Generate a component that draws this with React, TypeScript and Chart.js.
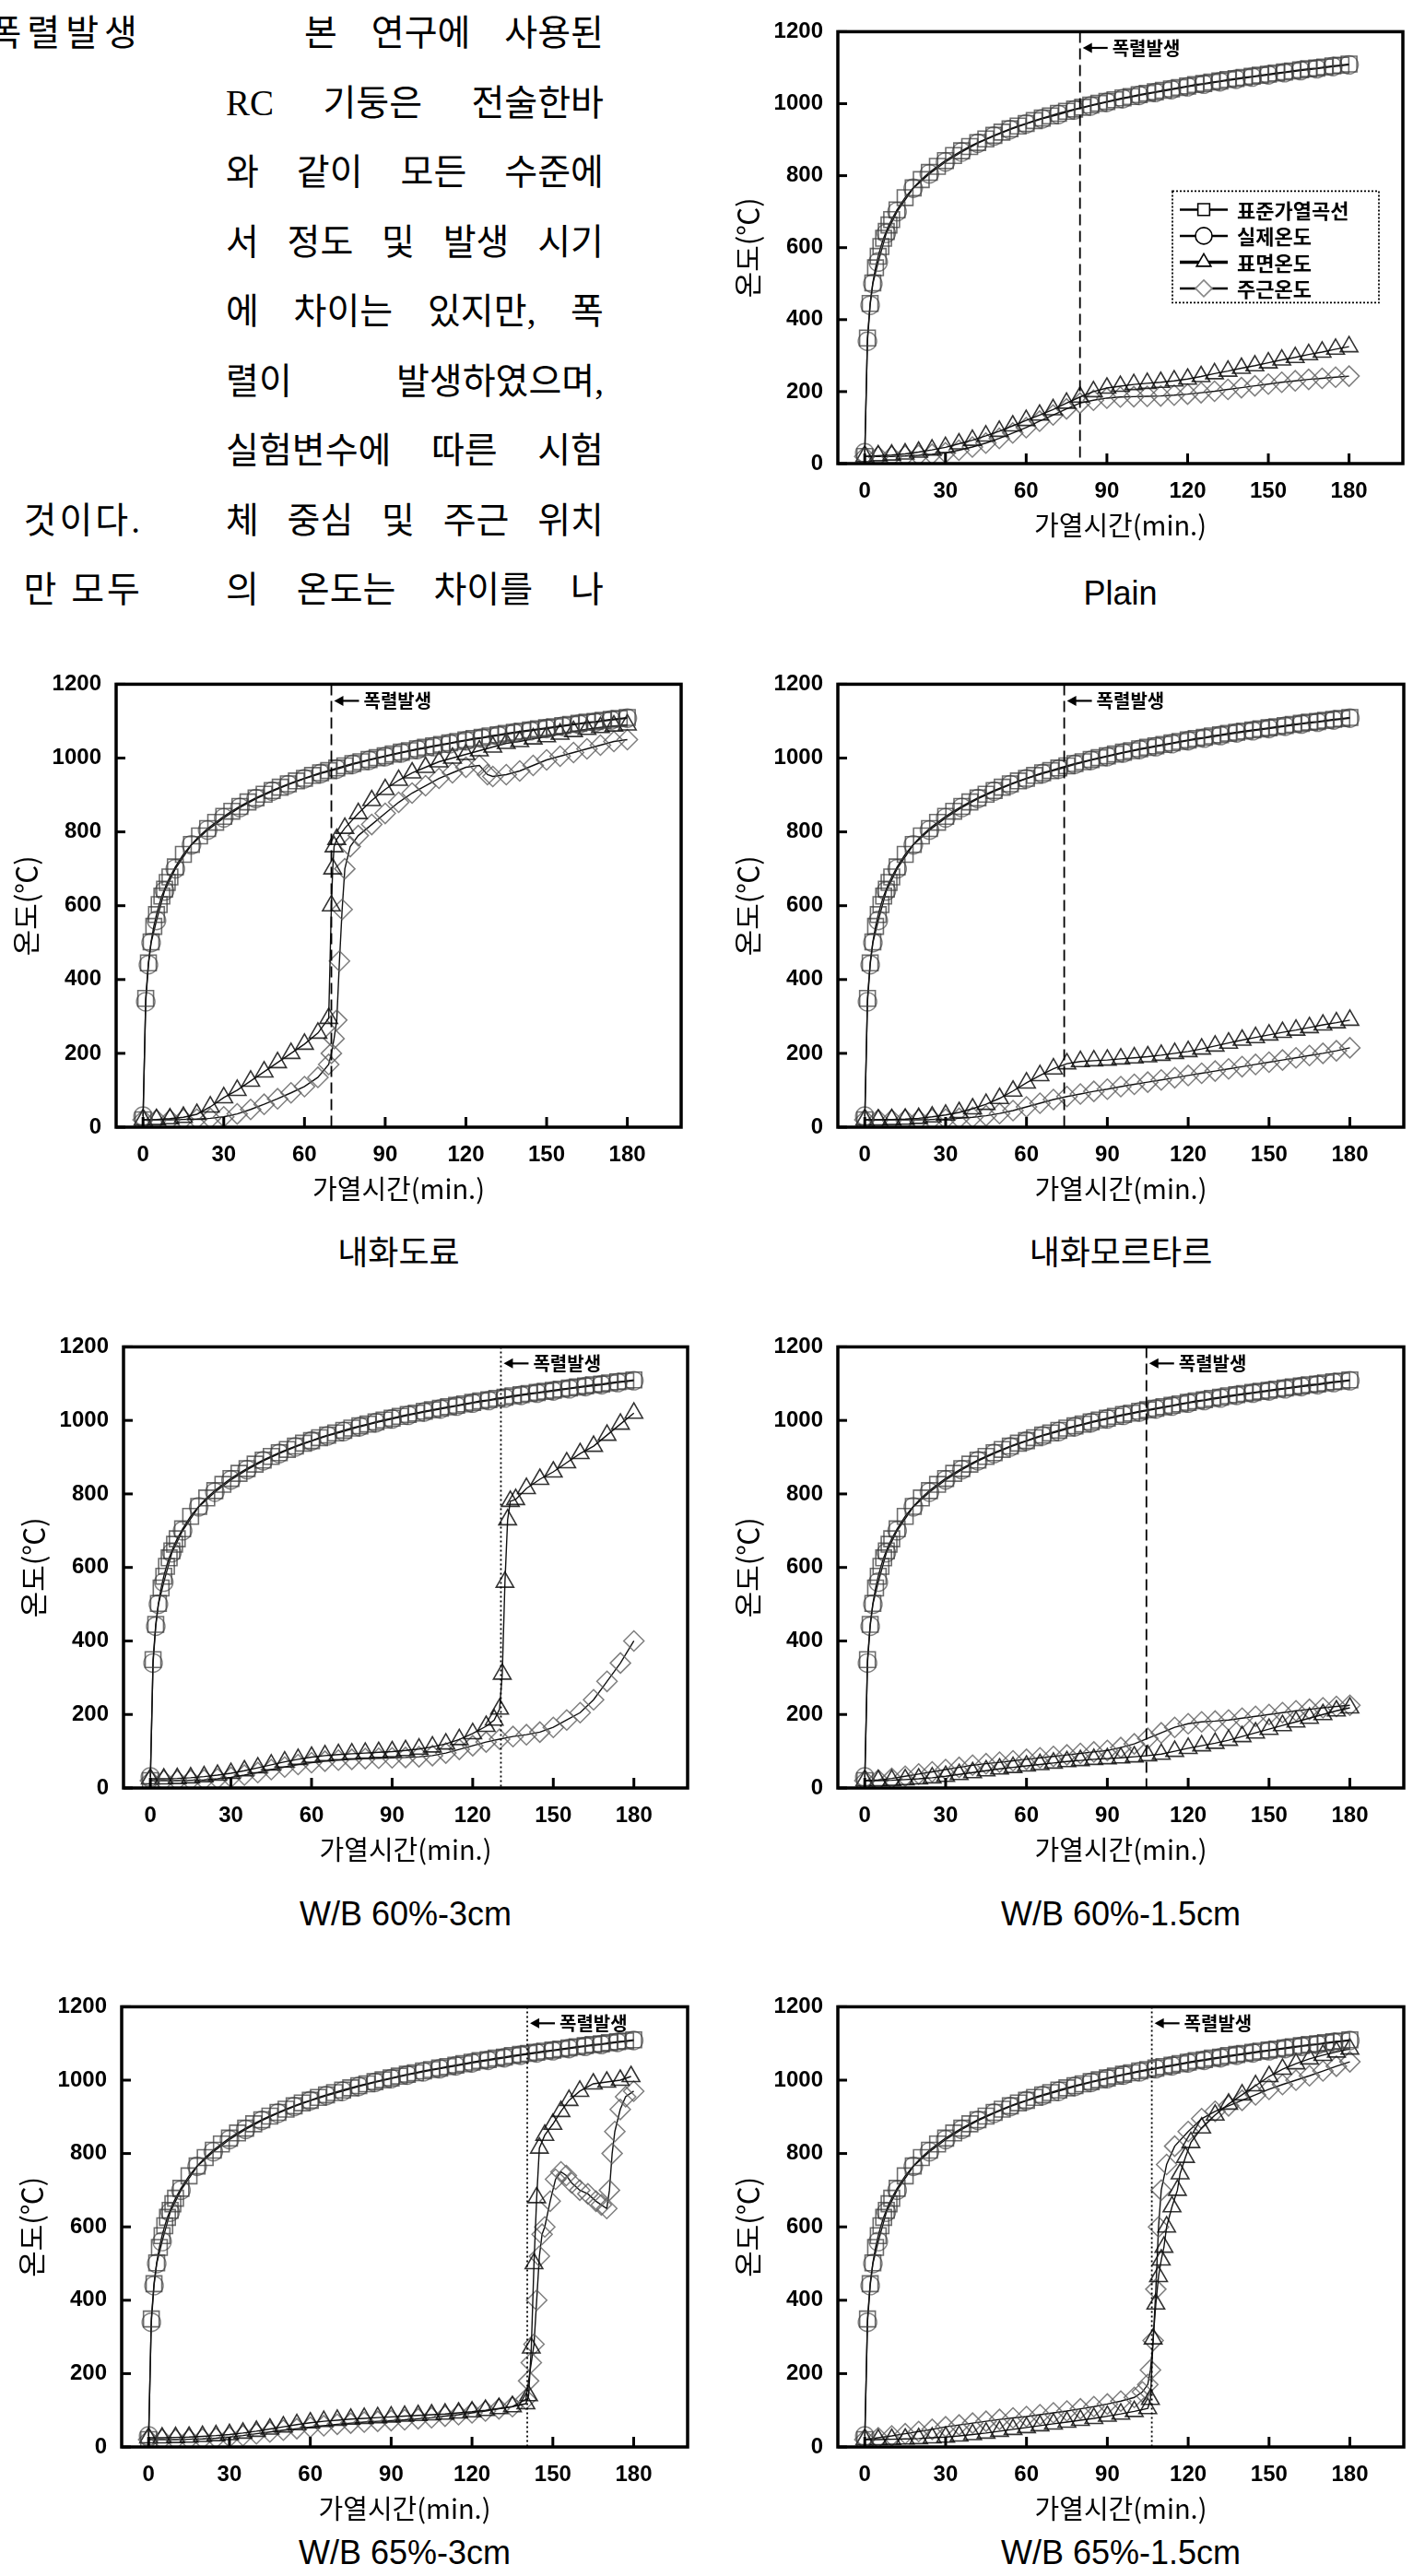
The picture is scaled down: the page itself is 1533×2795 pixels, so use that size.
import React, { useEffect, useRef } from "react";
import { Chart, registerables } from "chart.js";

Chart.register(...registerables);

// ---------- text ----------
const X_TICKS = [0, 30, 60, 90, 120, 150, 180];
const Y_TICKS = [0, 200, 400, 600, 800, 1000, 1200];
const X_TITLE = "가열시간(min.)";
const Y_TITLE = "온도(℃)";
const SERIES_LABELS = ["표준가열곡선", "실제온도", "표면온도", "주근온도"];
const SPALL_LABEL = "폭렬발생";

const LEFT_TEXT = ["폭렬발생", "것이다.", "만 모두"];
const RIGHT_TEXT = [
  "본 연구에 사용된",
  "RC 기둥은 전술한바",
  "와 같이 모든 수준에",
  "서 정도 및 발생 시기",
  "에 차이는 있지만, 폭",
  "렬이 발생하였으며,",
  "실험변수에 따른 시험",
  "체 중심 및 주근 위치",
  "의 온도는 차이를 나",
];

// ---------- shared series ----------
const STD_TIME = [0, 1, 2, 3, 4, 5, 6, 7, 8, 9, 10, 12, 15, 18, 21, 24, 27, 30, 33, 36, 39, 42, 45, 48, 51, 54, 57, 60, 63, 66, 69, 72, 75, 78, 81, 84, 87, 90, 93, 96, 99, 102, 105, 108, 111, 114, 117, 120, 123, 126, 129, 132, 135, 138, 141, 144, 147, 150, 153, 156, 159, 162, 165, 168, 171, 174, 177, 180];
const STD_TEMP = [20, 349, 445, 502, 544, 576, 603, 626, 645, 663, 678, 705, 739, 766, 789, 809, 826, 842, 856, 869, 881, 892, 902, 912, 921, 930, 938, 945, 953, 960, 966, 973, 979, 985, 990, 996, 1001, 1006, 1011, 1016, 1020, 1025, 1029, 1033, 1037, 1041, 1045, 1049, 1053, 1056, 1060, 1063, 1067, 1070, 1073, 1076, 1079, 1082, 1085, 1088, 1091, 1094, 1097, 1099, 1102, 1105, 1107, 1110];

const FURNACE_TIME = [0, 1, 2, 3, 5, 8, 12, 18, 24, 30, 36, 42, 48, 54, 60, 66, 72, 78, 84, 90, 96, 102, 108, 114, 120, 126, 132, 138, 144, 150, 156, 162, 168, 174, 180];
const FURNACE_TEMP = [30, 340, 440, 500, 560, 640, 700, 765, 805, 838, 866, 890, 910, 928, 944, 958, 970, 983, 994, 1004, 1014, 1023, 1031, 1039, 1047, 1054, 1061, 1068, 1074, 1080, 1086, 1092, 1097, 1103, 1108];

const T5 = [0, 5, 10, 15, 20, 25, 30, 35, 40, 45, 50, 55, 60, 65, 70, 75, 80, 85, 90, 95, 100, 105, 110, 115, 120, 125, 130, 135, 140, 145, 150, 155, 160, 165, 170, 175, 180];

// ---------- Plain ----------
const PLAIN_SURFACE = [20, 22, 24, 27, 32, 38, 45, 55, 65, 77, 90, 105, 120, 135, 150, 168, 185, 200, 210, 215, 220, 223, 226, 230, 235, 242, 250, 257, 265, 272, 280, 288, 295, 303, 310, 318, 325];
const PLAIN_REBAR = [20, 20, 20, 21, 23, 26, 30, 37, 46, 57, 70, 85, 100, 118, 135, 152, 168, 176, 182, 185, 186, 187, 188, 190, 193, 197, 201, 206, 211, 216, 221, 226, 230, 234, 237, 240, 243];
const PLAIN_SPALL = 80;

// ---------- 내화도료 ----------
const PAINT_SURFACE_TIME = [0, 5, 10, 15, 20, 25, 30, 35, 40, 45, 50, 55, 60, 65, 69, 70, 70.5, 71, 72, 75, 80, 85, 90, 95, 100, 105, 110, 115, 120, 125, 130, 135, 140, 145, 150, 155, 160, 165, 170, 175, 180];
const PAINT_SURFACE = [20, 21, 23, 27, 35, 55, 80, 100, 125, 150, 175, 200, 225, 255, 295, 600, 700, 760, 780, 810, 850, 885, 915, 940, 960, 975, 990, 1000, 1010, 1020, 1030, 1040, 1045, 1052, 1058, 1065, 1072, 1078, 1083, 1087, 1090];
const PAINT_REBAR_TIME = [0, 5, 10, 15, 20, 25, 30, 35, 40, 45, 50, 55, 60, 65, 69, 70, 71, 72, 73, 74, 75, 77, 80, 85, 90, 95, 100, 105, 110, 115, 120, 125, 128, 130, 135, 140, 145, 150, 155, 160, 165, 170, 175, 180];
const PAINT_REBAR = [20, 20, 20, 21, 22, 24, 28, 36, 48, 62, 77, 93, 110, 135, 170, 200, 240, 290, 450, 590, 700, 760, 790, 820, 850, 880, 905, 925, 945, 960, 975, 980, 955, 950, 955, 965, 980, 995, 1005, 1015, 1025, 1035, 1045, 1050];
const PAINT_SPALL = 70;

// ---------- 내화모르타르 ----------
const MORTAR_SURFACE = [20, 20, 21, 22, 24, 28, 33, 40, 50, 62, 78, 98, 120, 140, 158, 172, 178, 180, 182, 185, 188, 191, 195, 200, 205, 212, 220, 228, 236, 243, 250, 257, 263, 270, 277, 283, 290];
const MORTAR_REBAR = [20, 20, 20, 20, 20, 21, 22, 24, 27, 31, 37, 45, 55, 65, 75, 83, 90, 97, 103, 110, 116, 122, 128, 134, 140, 146, 152, 158, 164, 170, 176, 182, 188, 194, 200, 207, 215];
const MORTAR_SPALL = 74;

// ---------- W/B 60%-3cm ----------
const WB60_3_SURFACE_TIME = [0, 5, 10, 15, 20, 25, 30, 35, 40, 45, 50, 55, 60, 65, 70, 75, 80, 85, 90, 95, 100, 105, 110, 115, 120, 125, 128, 130, 131, 132, 133, 134, 136, 140, 145, 150, 155, 160, 165, 170, 175, 180];
const WB60_3_SURFACE = [25, 25, 26, 28, 31, 35, 40, 47, 55, 63, 71, 78, 84, 88, 91, 93, 95, 97, 99, 102, 106, 112, 120, 132, 148, 168, 185, 215, 310, 560, 730, 780, 785, 815, 840, 860, 885, 910, 930, 960, 990, 1020];
const WB60_3_REBAR = [20, 20, 20, 21, 22, 25, 29, 35, 42, 50, 57, 64, 69, 73, 76, 78, 80, 81, 82, 83, 85, 88, 95, 105, 115, 125, 133, 140, 145, 152, 165, 185, 205, 240, 290, 340, 400];
const WB60_3_SPALL = 130.5;

// ---------- W/B 60%-1.5cm ----------
const WB60_15_SURFACE = [20, 20, 21, 23, 25, 28, 32, 37, 42, 47, 52, 56, 60, 64, 68, 72, 75, 78, 80, 82, 85, 88, 92, 100, 108, 115, 122, 130, 140, 150, 160, 170, 180, 190, 200, 210, 218];
const WB60_15_REBAR = [20, 22, 26, 32, 38, 44, 50, 56, 62, 66, 70, 74, 78, 82, 86, 90, 94, 98, 102, 110, 120, 135, 150, 165, 175, 180, 182, 185, 190, 195, 200, 205, 210, 214, 218, 222, 225];
const WB60_15_SPALL = 104.5;

// ---------- W/B 65%-3cm ----------
const WB65_3_SURFACE_TIME = [0, 5, 10, 15, 20, 25, 30, 35, 40, 45, 50, 55, 60, 65, 70, 75, 80, 85, 90, 95, 100, 105, 110, 115, 120, 125, 130, 135, 140, 141, 142, 143, 144, 145, 147, 150, 153, 156, 160, 165, 170, 175, 179];
const WB65_3_SURFACE = [25, 25, 26, 27, 29, 31, 34, 38, 43, 49, 55, 61, 66, 70, 73, 76, 78, 80, 82, 84, 86, 88, 90, 93, 96, 100, 105, 110, 118, 140, 270, 500, 680, 815, 850, 880, 915, 945, 970, 990, 995, 1000, 1010];
const WB65_3_REBAR_TIME = [0, 5, 10, 15, 20, 25, 30, 35, 40, 45, 50, 55, 60, 65, 70, 75, 80, 85, 90, 95, 100, 105, 110, 115, 120, 125, 130, 135, 140, 141, 142, 143, 144, 145, 146, 147, 149, 151, 153, 155, 157, 160, 163, 166, 168, 170, 171, 172, 173, 175, 177, 180];
const WB65_3_REBAR = [20, 20, 20, 21, 22, 24, 27, 31, 36, 41, 46, 50, 54, 58, 62, 65, 68, 70, 72, 74, 77, 80, 84, 88, 93, 98, 104, 110, 130, 180, 230, 280, 400, 520, 580, 600, 670, 730, 750, 740, 720, 700, 690, 670, 660, 650, 700, 800, 860, 920, 955, 970];
const WB65_3_SPALL = 140.5;

// ---------- W/B 65%-1.5cm ----------
const WB65_15_SURFACE_TIME = [0, 5, 10, 15, 20, 25, 30, 35, 40, 45, 50, 55, 60, 65, 70, 75, 80, 85, 90, 95, 100, 105, 106, 107, 108, 109, 110, 111, 112, 114, 116, 117, 119, 121, 125, 130, 135, 140, 145, 150, 155, 160, 165, 170, 175, 180];
const WB65_15_SURFACE = [20, 20, 21, 22, 23, 25, 27, 30, 34, 38, 43, 48, 53, 58, 63, 68, 73, 78, 84, 90, 97, 105, 130, 295, 390, 465, 510, 545, 600, 655, 700, 745, 790, 830, 870, 905, 935, 960, 985, 1010, 1030, 1045, 1058, 1068, 1077, 1085];
const WB65_15_REBAR_TIME = [0, 5, 10, 15, 20, 25, 30, 35, 40, 45, 50, 55, 60, 65, 70, 75, 80, 85, 90, 95, 100, 103, 105, 106, 107, 108, 109, 110, 112, 115, 120, 125, 130, 135, 140, 145, 150, 155, 160, 165, 170, 175, 180];
const WB65_15_REBAR = [20, 25, 30, 36, 42, 48, 55, 60, 65, 70, 75, 79, 83, 88, 93, 98, 104, 110, 117, 125, 135, 150, 170, 210, 290, 430, 600, 700, 770, 820, 860, 895, 915, 930, 945, 960, 975, 988, 1000, 1012, 1025, 1038, 1050];
const WB65_15_SPALL = 106.5;

// ---------- layout ----------
const Y_AXIS_W = 120;
const PAD_T = 20;
const PAD_R = 14;
const X_AXIS_H = 84;
const SPALL_LABEL_Y = 1155;

type PanelDef = {
  caption: string;
  surfT: number[];
  surf: number[];
  rebT: number[];
  reb: number[];
  spall: number;
  dotted: boolean;
  legend: boolean;
  l: number;
  t: number;
  r: number;
  b: number;
  capY: number;
};

const PANELS: PanelDef[] = [
  { caption: "Plain", surfT: T5, surf: PLAIN_SURFACE, rebT: T5, reb: PLAIN_REBAR, spall: PLAIN_SPALL, dotted: false, legend: true, l: 909, t: 32, r: 1522, b: 503, capY: 644 },
  { caption: "내화도료", surfT: PAINT_SURFACE_TIME, surf: PAINT_SURFACE, rebT: PAINT_REBAR_TIME, reb: PAINT_REBAR, spall: PAINT_SPALL, dotted: false, legend: false, l: 126, t: 740, r: 739, b: 1223, capY: 1360 },
  { caption: "내화모르타르", surfT: T5, surf: MORTAR_SURFACE, rebT: T5, reb: MORTAR_REBAR, spall: MORTAR_SPALL, dotted: false, legend: false, l: 909, t: 740, r: 1523, b: 1223, capY: 1360 },
  { caption: "W/B 60%-3cm", surfT: WB60_3_SURFACE_TIME, surf: WB60_3_SURFACE, rebT: T5, reb: WB60_3_REBAR, spall: WB60_3_SPALL, dotted: true, legend: false, l: 134, t: 1459, r: 746, b: 1940, capY: 2077 },
  { caption: "W/B 60%-1.5cm", surfT: T5, surf: WB60_15_SURFACE, rebT: T5, reb: WB60_15_REBAR, spall: WB60_15_SPALL, dotted: false, legend: false, l: 909, t: 1459, r: 1523, b: 1940, capY: 2077 },
  { caption: "W/B 65%-3cm", surfT: WB65_3_SURFACE_TIME, surf: WB65_3_SURFACE, rebT: WB65_3_REBAR_TIME, reb: WB65_3_REBAR, spall: WB65_3_SPALL, dotted: true, legend: false, l: 132, t: 2175, r: 746, b: 2655, capY: 2770 },
  { caption: "W/B 65%-1.5cm", surfT: WB65_15_SURFACE_TIME, surf: WB65_15_SURFACE, rebT: WB65_15_REBAR_TIME, reb: WB65_15_REBAR, spall: WB65_15_SPALL, dotted: true, legend: false, l: 909, t: 2175, r: 1523, b: 2655, capY: 2770 },
];

const zip = (xs: number[], ys: number[]) => xs.map((x, i) => ({ x, y: ys[i] }));

const SERIES_STYLE = [
  { pointStyle: "rect", radius: 12, border: "rgba(60,60,60,0.75)", width: 1.6 },
  { pointStyle: "circle", radius: 10, border: "rgba(80,80,80,0.7)", width: 1.4 },
  { pointStyle: "triangle", radius: 11, border: "rgba(15,15,15,0.85)", width: 1.6 },
  { pointStyle: "rectRot", radius: 11, border: "rgba(95,95,95,0.8)", width: 1.5 },
];

function drawMarker(ctx: CanvasRenderingContext2D, style: string, x: number, y: number, r: number) {
  ctx.beginPath();
  if (style === "rect") {
    const s = r * Math.SQRT1_2;
    ctx.rect(x - s, y - s, 2 * s, 2 * s);
  } else if (style === "circle") {
    ctx.arc(x, y, r, 0, Math.PI * 2);
  } else if (style === "triangle") {
    ctx.moveTo(x, y - r);
    ctx.lineTo(x + r * 0.87, y + r * 0.5);
    ctx.lineTo(x - r * 0.87, y + r * 0.5);
    ctx.closePath();
  } else {
    ctx.moveTo(x, y - r);
    ctx.lineTo(x + r, y);
    ctx.lineTo(x, y + r);
    ctx.lineTo(x - r, y);
    ctx.closePath();
  }
  ctx.fillStyle = "#fff";
  ctx.fill();
  ctx.stroke();
}

const framePlugin = {
  id: "frame",
  afterDatasetsDraw(chart: any) {
    const { ctx, chartArea: a, scales } = chart;
    const x = scales.x;
    const y = scales.y;
    ctx.save();
    ctx.strokeStyle = "#000";
    ctx.lineWidth = 3.5;
    ctx.strokeRect(a.left, a.top, a.right - a.left, a.bottom - a.top);
    ctx.lineWidth = 3;
    for (const v of X_TICKS) {
      const px = x.getPixelForValue(v);
      ctx.beginPath();
      ctx.moveTo(px, a.bottom);
      ctx.lineTo(px, a.bottom - 11);
      ctx.stroke();
    }
    for (const v of Y_TICKS) {
      const py = y.getPixelForValue(v);
      ctx.beginPath();
      ctx.moveTo(a.left, py);
      ctx.lineTo(a.left + 10, py);
      ctx.stroke();
    }
    ctx.restore();
  },
};

const spallPlugin = {
  id: "spall",
  afterDatasetsDraw(chart: any, _args: any, opts: any) {
    if (!opts || opts.time == null) return;
    const { ctx, chartArea: a, scales } = chart;
    const px = scales.x.getPixelForValue(opts.time);
    const py = scales.y.getPixelForValue(SPALL_LABEL_Y);
    ctx.save();
    ctx.strokeStyle = "#000";
    ctx.fillStyle = "#000";
    ctx.lineWidth = 1.8;
    ctx.setLineDash(opts.dotted ? [2, 3] : [12, 6]);
    ctx.beginPath();
    ctx.moveTo(px, a.top);
    ctx.lineTo(px, a.bottom);
    ctx.stroke();
    ctx.setLineDash([]);
    ctx.lineWidth = 2.2;
    ctx.beginPath();
    ctx.moveTo(px + 8, py);
    ctx.lineTo(px + 30, py);
    ctx.stroke();
    ctx.beginPath();
    ctx.moveTo(px + 3, py);
    ctx.lineTo(px + 13, py - 5.5);
    ctx.lineTo(px + 13, py + 5.5);
    ctx.closePath();
    ctx.fill();
    ctx.font = 'bold 20px "Noto Sans CJK KR"';
    ctx.textBaseline = "middle";
    ctx.textAlign = "left";
    ctx.fillText(SPALL_LABEL, px + 35, py);
    ctx.restore();
  },
};

const legendPlugin = {
  id: "seriesLegend",
  afterDatasetsDraw(chart: any, _args: any, opts: any) {
    if (!opts || !opts.show) return;
    const { ctx, chartArea: a } = chart;
    const bx = a.left + 363;
    const by = a.top + 173;
    const bw = 224;
    const bh = 121;
    ctx.save();
    ctx.fillStyle = "#fff";
    ctx.fillRect(bx, by, bw, bh);
    ctx.strokeStyle = "#000";
    ctx.lineWidth = 1.8;
    ctx.setLineDash([2, 2]);
    ctx.strokeRect(bx, by, bw, bh);
    ctx.setLineDash([]);
    SERIES_LABELS.forEach((label, i) => {
      const yy = by + 20 + i * 28.5;
      ctx.strokeStyle = "#000";
      ctx.lineWidth = i === 2 ? 3.5 : 2.5;
      ctx.beginPath();
      ctx.moveTo(bx + 8, yy);
      ctx.lineTo(bx + 60, yy);
      ctx.stroke();
      ctx.lineWidth = 1.6;
      ctx.strokeStyle = i === 3 ? "#888" : "#000";
      drawMarker(ctx, SERIES_STYLE[i].pointStyle, bx + 34, yy, 9);
      ctx.fillStyle = "#000";
      ctx.font = 'bold 22px "Noto Sans CJK KR"';
      ctx.textBaseline = "middle";
      ctx.textAlign = "left";
      ctx.fillText(label, bx + 70, yy + 1);
    });
    ctx.restore();
  },
};

const TICK_FONT = { family: '"Liberation Sans", Arial, sans-serif', size: 24, weight: "bold" as const };
const TITLE_FONT = { family: '"Noto Sans CJK KR", sans-serif', size: 29, weight: "normal" as const };
const plainNumber = (v: any) => String(v);

function Panel({ p }: { p: PanelDef }) {
  const ref = useRef<HTMLCanvasElement>(null);
  const W = p.r - p.l + Y_AXIS_W + PAD_R;
  const H = p.b - p.t + PAD_T + X_AXIS_H;

  useEffect(() => {
    if (!ref.current) return;
    const series = [
      zip(STD_TIME, STD_TEMP),
      zip(FURNACE_TIME, FURNACE_TEMP),
      zip(p.surfT, p.surf),
      zip(p.rebT, p.reb),
    ];
    const chart = new Chart(ref.current, {
      type: "line",
      data: {
        datasets: series.map((data, i) => ({
          label: SERIES_LABELS[i],
          data,
          borderColor: "#111",
          borderWidth: 1.4,
          pointStyle: SERIES_STYLE[i].pointStyle as any,
          pointRadius: SERIES_STYLE[i].radius,
          pointBorderColor: SERIES_STYLE[i].border,
          pointBackgroundColor: "rgba(255,255,255,0)",
          pointBorderWidth: SERIES_STYLE[i].width,
          tension: 0,
          fill: false,
        })),
      },
      options: {
        animation: false,
        responsive: false,
        events: [],
        layout: { padding: { top: PAD_T, right: PAD_R, left: 0, bottom: 0 } },
        plugins: {
          legend: { display: false },
          tooltip: { enabled: false },
          spall: { time: p.spall, dotted: p.dotted },
          seriesLegend: { show: p.legend },
        } as any,
        scales: {
          x: {
            type: "linear",
            min: -10,
            max: 200,
            afterBuildTicks: (s: any) => {
              s.ticks = X_TICKS.map((value) => ({ value }));
            },
            afterFit: (s: any) => {
              s.height = X_AXIS_H;
            },
            grid: { display: false },
            border: { display: false },
            ticks: { font: TICK_FONT, color: "#000", padding: 8, maxRotation: 0, autoSkip: false, callback: plainNumber },
            title: { display: true, text: X_TITLE, font: TITLE_FONT, color: "#000", padding: 0 },
          },
          y: {
            type: "linear",
            min: 0,
            max: 1200,
            afterBuildTicks: (s: any) => {
              s.ticks = Y_TICKS.map((value) => ({ value }));
            },
            afterFit: (s: any) => {
              s.width = Y_AXIS_W;
            },
            grid: { display: false },
            border: { display: false },
            ticks: { font: TICK_FONT, color: "#000", padding: 8, autoSkip: false, callback: plainNumber },
            title: { display: true, text: Y_TITLE, font: { ...TITLE_FONT, size: 31 }, color: "#000", padding: { top: 4, bottom: 0 } },
          },
        },
      },
      plugins: [framePlugin, spallPlugin, legendPlugin],
    });
    return () => chart.destroy();
  }, [p]);

  return (
    <>
      <canvas
        ref={ref}
        width={W}
        height={H}
        style={{ position: "absolute", left: p.l - Y_AXIS_W, top: p.t - PAD_T, width: W, height: H }}
      />
      <div
        style={{
          position: "absolute",
          left: (p.l + p.r) / 2 - 300,
          width: 600,
          top: p.capY - 24,
          height: 48,
          lineHeight: "48px",
          textAlign: "center",
          fontFamily: '"Liberation Sans", "Noto Sans CJK KR", sans-serif',
          fontSize: 36,
          color: "#000",
          whiteSpace: "nowrap",
        }}
      >
        {p.caption}
      </div>
    </>
  );
}

const TEXT_FONT = '"Liberation Serif", "Noto Sans CJK KR", serif';

export default function App() {
  const lineY = (i: number) => 36 + i * 75.5;
  return (
    <div
      style={{
        position: "absolute",
        left: 0,
        top: 0,
        width: 1533,
        height: 2795,
        overflow: "hidden",
        background: "#fff",
      }}
    >
      {[0, 7, 8].map((row, k) => (
        <div
          key={"l" + k}
          style={{
            position: "absolute",
            left: -240,
            width: 395,
            top: lineY(row) - 25,
            height: 50,
            lineHeight: "50px",
            textAlign: "right",
            fontFamily: TEXT_FONT,
            fontSize: 39,
            letterSpacing: k === 0 ? 6 : 3,
            whiteSpace: "nowrap",
            color: "#000",
          }}
        >
          {LEFT_TEXT[k]}
        </div>
      ))}
      {RIGHT_TEXT.map((line, i) => (
        <div
          key={"r" + i}
          style={{
            position: "absolute",
            left: i === 0 ? 330 : 245,
            width: i === 0 ? 325 : 410,
            top: lineY(i) - 25,
            height: 50,
            lineHeight: "50px",
            textAlign: "justify",
            textAlignLast: "justify",
            fontFamily: TEXT_FONT,
            fontSize: 39,
            whiteSpace: "nowrap",
            color: "#000",
          } as any}
        >
          {line}
        </div>
      ))}
      {PANELS.map((p, i) => (
        <Panel key={i} p={p} />
      ))}
    </div>
  );
}
